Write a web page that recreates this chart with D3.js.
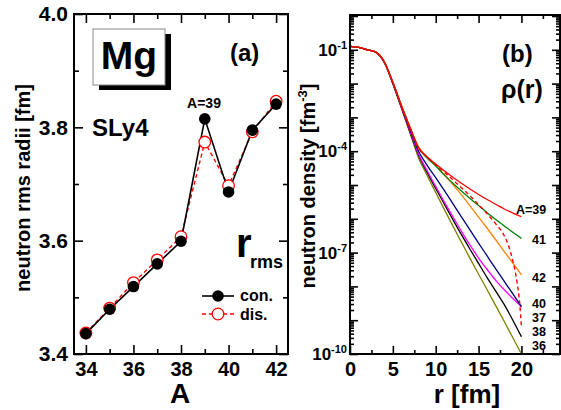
<!DOCTYPE html>
<html><head><meta charset="utf-8">
<script src="https://cdn.jsdelivr.net/npm/d3@7"></script>
<style>
body{margin:0;background:#fff}
text{font-family:"Liberation Sans",Arial,sans-serif;font-weight:bold;fill:#000}
</style>
</head><body>
<svg id="c" width="561" height="410"></svg>
<script>
// ---------- panel (a) data ----------
const massNumbers = [34,35,36,37,38,39,40,41,42];
const rmsCon = [3.436,3.479,3.519,3.559,3.599,3.815,3.686,3.795,3.841];
const rmsDis = [3.437,3.481,3.526,3.566,3.607,3.774,3.697,3.792,3.846];
const rmsTicks = [3.4,3.6,3.8,4.0];
const massTicks = [34,36,38,40,42];

// ---------- panel (b) data: log10 of neutron density ----------
const rGrid = [0,1,2,3,4,5,6,7,8,9,10,11,12,13,14,15,16,17,18,19,20];
const logRho39 = [-0.90,-0.93,-1.00,-1.07,-1.36,-1.97,-2.66,-3.30,-3.90,-4.17,-4.38,-4.58,-4.77,-4.95,-5.12,-5.28,-5.43,-5.57,-5.71,-5.83,-5.94];
const logRho41 = [-0.90,-0.93,-1.00,-1.07,-1.36,-1.97,-2.66,-3.31,-3.91,-4.20,-4.44,-4.70,-4.95,-5.18,-5.40,-5.61,-5.82,-6.02,-6.21,-6.40,-6.58];
const logRho42 = [-0.90,-0.93,-1.00,-1.07,-1.35,-1.95,-2.63,-3.28,-3.87,-4.17,-4.42,-4.70,-4.99,-5.29,-5.62,-5.95,-6.28,-6.62,-6.97,-7.31,-7.66];
const logRho40 = [-0.90,-0.93,-1.00,-1.07,-1.36,-1.98,-2.68,-3.36,-4.00,-4.42,-4.78,-5.16,-5.55,-5.94,-6.33,-6.72,-7.10,-7.48,-7.85,-8.22,-8.60];
const logRho37 = [-0.90,-0.93,-1.00,-1.07,-1.37,-1.99,-2.70,-3.41,-4.08,-4.58,-5.04,-5.50,-5.94,-6.37,-6.78,-7.16,-7.50,-7.82,-8.10,-8.36,-8.60];
const logRho38 = [-0.90,-0.93,-1.00,-1.07,-1.37,-2.00,-2.71,-3.43,-4.12,-4.63,-5.10,-5.56,-6.02,-6.47,-6.90,-7.32,-7.74,-8.14,-8.54,-9.00,-9.49];
const logRho36 = [-0.90,-0.93,-1.00,-1.07,-1.38,-2.01,-2.73,-3.47,-4.20,-4.72,-5.22,-5.72,-6.21,-6.69,-7.17,-7.64,-8.10,-8.57,-9.04,-9.52,-10.0];
const rDis39 = [0,1,2,3,4,5,6,7,8,9,10,11,12,13,14,15,16,17,18,18.5,19,19.5,19.8,20];
const logRhoDis39 = [-0.90,-0.93,-1.00,-1.07,-1.36,-1.97,-2.66,-3.30,-3.90,-4.17,-4.40,-4.62,-4.85,-5.08,-5.32,-5.58,-5.85,-6.15,-6.50,-6.80,-7.25,-7.90,-8.50,-9.20];
const curveLabels = ["A=39","41","42","40","37","38","36"];
const rTicks = [0,5,10,15,20];
const decadeLabels = [-1,-4,-7,-10];

const svg = d3.select("#c");

// ================= PANEL (a) =================
const ax = d3.scaleLinear().domain([33.5,42.5]).range([74,288]);
const ay = d3.scaleLinear().domain([3.4,4.0]).range([354,14]);
const ga = svg.append("g");

function ticks(g, axis, tr){ const s=g.append("g").attr("transform",tr).call(axis); s.select(".domain").remove(); s.selectAll("line").attr("stroke","#000").attr("stroke-width",1.6); return s; }

ticks(ga, d3.axisBottom(ax).tickValues(massTicks).tickSize(-9).tickPadding(8), "translate(0,354)")
  .selectAll("text").style("font-size","20px").attr("fill","#000");
ticks(ga, d3.axisBottom(ax).tickValues([35,37,39,41]).tickSize(-5).tickFormat(""), "translate(0,354)");
ticks(ga, d3.axisTop(ax).tickValues(massTicks).tickSize(-9).tickFormat(""), "translate(0,14)");
ticks(ga, d3.axisTop(ax).tickValues([35,37,39,41]).tickSize(-5).tickFormat(""), "translate(0,14)");
ticks(ga, d3.axisLeft(ay).tickValues(rmsTicks).tickSize(-9).tickPadding(6).tickFormat(d3.format(".1f")), "translate(74,0)")
  .selectAll("text").style("font-size","21px").attr("fill","#000");
ticks(ga, d3.axisLeft(ay).tickValues([3.5,3.7,3.9]).tickSize(-5).tickFormat(""), "translate(74,0)");
ticks(ga, d3.axisRight(ay).tickValues(rmsTicks).tickSize(-9).tickFormat(""), "translate(288,0)");
ticks(ga, d3.axisRight(ay).tickValues([3.5,3.7,3.9]).tickSize(-5).tickFormat(""), "translate(288,0)");

ga.append("rect").attr("x",74).attr("y",14).attr("width",214).attr("height",340)
  .attr("fill","none").attr("stroke","#000").attr("stroke-width",2);

const lineA = d3.line().x((d,i)=>ax(massNumbers[i])).y(d=>ay(d));
ga.append("path").attr("d",lineA(rmsDis)).attr("fill","none").attr("stroke","#f00").attr("stroke-width",1.4).attr("stroke-dasharray","4,3");
ga.append("path").attr("d",lineA(rmsCon)).attr("fill","none").attr("stroke","#000").attr("stroke-width",1.6);
ga.selectAll(".dis").data(rmsDis).join("circle").attr("cx",(d,i)=>ax(massNumbers[i])).attr("cy",d=>ay(d)).attr("r",5.8)
  .attr("fill","#fff").attr("stroke","#f00").attr("stroke-width",1.3);
ga.selectAll(".con").data(rmsCon).join("circle").attr("cx",(d,i)=>ax(massNumbers[i])).attr("cy",d=>ay(d)).attr("r",5.8)
  .attr("fill","#000");

// Mg box
ga.append("rect").attr("x",99).attr("y",34).attr("width",72).attr("height",56).attr("fill","#000");
ga.append("rect").attr("x",93).attr("y",29).attr("width",72).attr("height",56).attr("fill","#fff").attr("stroke","#888").attr("stroke-width",1);
ga.append("text").attr("x",129).attr("y",69).attr("text-anchor","middle").style("font-size","39px").text("Mg");
ga.append("text").attr("x",230).attr("y",61).style("font-size","24px").text("(a)");
ga.append("text").attr("x",92).attr("y",136).style("font-size","24px").text("SLy4");
ga.append("text").attr("x",204).attr("y",108).attr("text-anchor","middle").style("font-size","14px").text("A=39");
ga.append("text").attr("x",236).attr("y",257).style("font-size","40px").text("r");
ga.append("text").attr("x",250).attr("y",268).style("font-size","18px").text("rms");
// legend
ga.append("line").attr("x1",202).attr("x2",234).attr("y1",296).attr("y2",296).attr("stroke","#000").attr("stroke-width",1.6);
ga.append("circle").attr("cx",218).attr("cy",296).attr("r",5.8).attr("fill","#000");
ga.append("line").attr("x1",202).attr("x2",234).attr("y1",314).attr("y2",314).attr("stroke","#f00").attr("stroke-width",1.4).attr("stroke-dasharray","4,3");
ga.append("circle").attr("cx",218).attr("cy",314).attr("r",5.8).attr("fill","#fff").attr("stroke","#f00").attr("stroke-width",1.3);
ga.append("text").attr("x",240).attr("y",301).style("font-size","16px").text("con.");
ga.append("text").attr("x",240).attr("y",320).style("font-size","16px").text("dis.");
// axis titles
ga.append("text").attr("transform","translate(30,188) rotate(-90)").attr("text-anchor","middle").style("font-size","20px").text("neutron rms radii [fm]");
ga.append("text").attr("x",180).attr("y",403).attr("text-anchor","middle").style("font-size","28px").text("A");

// ================= PANEL (b) =================
const bx = d3.scaleLinear().domain([0,24.5]).range([350,560]);
const by = d3.scaleLog().domain([1e-10,1]).range([354,16]);
const gb = svg.append("g");
const minorR = [2.5,7.5,12.5,17.5,22.5];
const decades = d3.range(-10,0);
const minorLog = [];
decades.forEach(e=>{for(let k=2;k<=9;k++) minorLog.push(k*Math.pow(10,e));});
const majorLog = decades.map(e=>Math.pow(10,e)).concat([1]);

ticks(gb, d3.axisBottom(bx).tickValues(rTicks).tickSize(-8).tickPadding(8), "translate(0,354)")
  .selectAll("text").style("font-size","20px").attr("fill","#000");
ticks(gb, d3.axisBottom(bx).tickValues(minorR).tickSize(-4).tickFormat(""), "translate(0,354)");
ticks(gb, d3.axisTop(bx).tickValues(rTicks).tickSize(-8).tickFormat(""), "translate(0,15)");
ticks(gb, d3.axisTop(bx).tickValues(minorR).tickSize(-4).tickFormat(""), "translate(0,15)");
ticks(gb, d3.axisLeft(by).tickValues(majorLog).tickSize(-8).tickFormat(""), "translate(350,0)");
ticks(gb, d3.axisLeft(by).tickValues(minorLog).tickSize(-4).tickFormat(""), "translate(350,0)");
ticks(gb, d3.axisRight(by).tickValues(majorLog).tickSize(-8).tickFormat(""), "translate(560,0)");
ticks(gb, d3.axisRight(by).tickValues(minorLog).tickSize(-4).tickFormat(""), "translate(560,0)");

decadeLabels.forEach(e=>{
  const t = gb.append("text").attr("x",347).attr("y",by(Math.pow(10,e))+6).attr("text-anchor","end").style("font-size","17px");
  t.append("tspan").text("10");
  t.append("tspan").attr("dy",-7).style("font-size","11px").text(String(e));
});

gb.append("defs").append("clipPath").attr("id","clipB").append("rect").attr("x",350).attr("y",15).attr("width",210).attr("height",339);
const plotB = gb.append("g").attr("clip-path","url(#clipB)");
const lineB = d3.line().x(d=>bx(d[0])).y(d=>by(Math.pow(10,d[1]))).curve(d3.curveMonotoneX);
const series = [
  {v:logRho36,c:"#808000"},{v:logRho38,c:"#000"},{v:logRho37,c:"#ff00ff"},{v:logRho40,c:"#000080"},
  {v:logRho42,c:"#ff8000"},{v:logRho41,c:"#008000"},{v:logRho39,c:"#ff0000"}
];
series.forEach(s=>{
  plotB.append("path").attr("d",lineB(rGrid.map((r,i)=>[r,s.v[i]]))).attr("fill","none").attr("stroke",s.c).attr("stroke-width",1.3);
});
plotB.append("path").attr("d",lineB(rDis39.map((r,i)=>[r,logRhoDis39[i]]))).attr("fill","none").attr("stroke","#f00").attr("stroke-width",1.4).attr("stroke-dasharray","4,3");

gb.append("rect").attr("x",350).attr("y",15).attr("width",210).attr("height",339).attr("fill","none").attr("stroke","#000").attr("stroke-width",2);

const labelY = [209,239,277,303,317,331,345];
curveLabels.forEach((t,i)=>{
  gb.append("text").attr("x", i===0?516:532).attr("y",labelY[i]+5).style("font-size","12.5px").text(t);
});
gb.append("text").attr("x",502).attr("y",62).style("font-size","24px").text("(b)");
gb.append("text").attr("x",501).attr("y",98).style("font-size","25px").text("ρ(r)");
const yt = gb.append("text").attr("transform","translate(315,186) rotate(-90)").attr("text-anchor","middle").style("font-size","20px");
yt.append("tspan").text("neutron density [fm");
yt.append("tspan").attr("dy",-8).style("font-size","13px").text("-3");
yt.append("tspan").attr("dy",8).text("]");
gb.append("text").attr("x",467).attr("y",403).attr("text-anchor","middle").style("font-size","26px").text("r [fm]");
</script>
</body></html>
